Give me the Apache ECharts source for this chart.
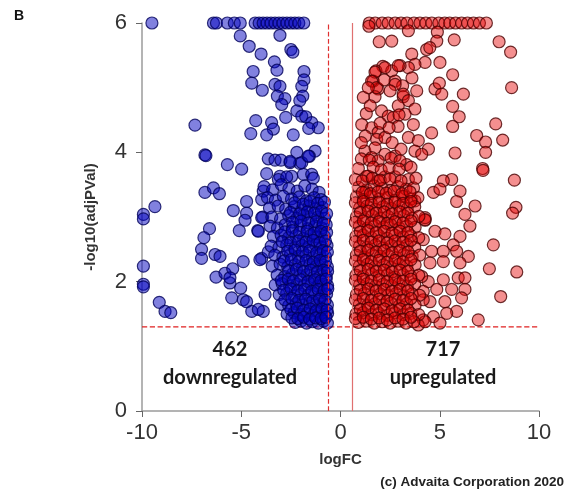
<!DOCTYPE html>
<html>
<head>
<meta charset="utf-8">
<script src="https://cdn.jsdelivr.net/npm/echarts@6/dist/echarts.min.js"></script>
<style>
  html, body { margin: 0; padding: 0; background: #fff; }
  #main { width: 567px; height: 492px; }
</style>
</head>
<body>
<div id="main"></div>
<script>
// logFC / -log10(adjPVal) pairs (capped at 6)
var downPoints = [
    [-9.5, 6], [-6.4, 6], [-6.25, 6], [-5.7, 6], [-5.35, 6], [-5.05, 6], [-4.3, 6], [-4.1, 6], [-3.9, 6],
    [-3.7, 6], [-3.5, 6], [-3.3, 6], [-3.1, 6], [-2.9, 6], [-2.7, 6], [-2.5, 6], [-2.3, 6], [-2.1, 6], [-1.85, 6],
    [-5.05, 5.8], [-3.05, 5.81], [-4.6, 5.64], [-4.0, 5.52], [-2.5, 5.59], [-2.4, 5.55], [-3.33, 5.4], [-3.2, 5.27],
    [-4.4, 5.25], [-1.84, 5.25], [-1.84, 5.12], [-4.47, 5.07], [-3.3, 5.05], [-3.05, 5.02], [-1.95, 5.02],
    [-3.94, 4.96], [-3.18, 4.87], [-2.8, 4.83], [-1.9, 4.87], [-2.05, 4.8], [-2.96, 4.74], [-2.2, 4.64],
    [-1.95, 4.56], [-1.75, 4.55], [-2.76, 4.54], [-4.27, 4.49], [-3.47, 4.46], [-7.33, 4.42], [-1.45, 4.46],
    [-1.12, 4.38], [-1.6, 4.37], [-3.38, 4.36], [-4.52, 4.29], [-3.72, 4.27], [-2.38, 4.27], [-1.28, 4.02],
    [-1.57, 3.94], [-2.2, 4.0], [-6.83, 3.96], [-6.78, 3.95], [-5.7, 3.81], [-4.98, 3.74], [-2.54, 3.84], [-2.05, 3.83],
    [-6.83, 3.38], [-6.4, 3.45], [-6.1, 3.36], [-9.35, 3.16], [-9.93, 3.04], [-9.93, 2.97], [-5.4, 3.1],
    [-4.73, 3.24], [-4.73, 3.06], [-4.81, 2.95], [-3.92, 3.0], [-6.6, 2.82], [-6.88, 2.68], [-5.1, 2.79],
    [-4.17, 2.79], [-9.93, 2.24], [-9.93, 1.96], [-9.93, 1.92], [-7.0, 2.5], [-7.0, 2.36], [-6.32, 2.42],
    [-6.07, 2.39], [-4.9, 2.31], [-3.97, 2.36], [-3.64, 2.46], [-6.27, 2.07], [-5.82, 2.13], [-5.57, 1.98],
    [-5.43, 2.2], [-5.57, 2.06], [-5.03, 1.9], [-5.48, 1.75], [-4.9, 1.72], [-4.73, 1.69], [-4.47, 1.54],
    [-3.89, 1.54], [-3.8, 1.8], [-9.13, 1.68], [-8.84, 1.54], [-8.55, 1.52], [-3.97, 2.99], [-4.14, 2.78],
    [-4.06, 2.34], [-3.89, 3.4], [-3.97, 3.27], [-4.14, 1.57],
    [-3.64, 3.9], [-3.3, 3.88], [-3.0, 3.88], [-2.54, 3.86], [-1.95, 3.84], [-1.62, 3.94], [-3.72, 3.67],
    [-3.05, 3.63], [-2.46, 3.63], [-1.87, 3.66], [-1.45, 3.66], [-3.13, 3.58], [-2.71, 3.62], [-1.37, 3.6],
    [-3.85, 3.47], [-3.42, 3.42], [-2.98, 3.5], [-2.6, 3.44], [-2.18, 3.4], [-1.8, 3.48], [-1.43, 3.43], [-1.08, 3.38],
    [-3.68, 3.3], [-3.28, 3.26], [-2.88, 3.32], [-2.47, 3.28], [-2.08, 3.31], [-1.72, 3.25], [-1.33, 3.3], [-0.98, 3.27],
    [-3.58, 3.14], [-3.14, 3.17], [-2.76, 3.12], [-2.33, 3.16], [-1.96, 3.11], [-1.58, 3.17], [-1.24, 3.13], [-0.9, 3.15],
    [-3.46, 3.0], [-3.02, 2.97], [-2.61, 3.02], [-2.2, 2.98], [-1.84, 3.03], [-1.5, 2.97], [-1.14, 3.0], [-0.8, 2.98],
    [-3.55, 2.86], [-3.18, 2.83], [-2.79, 2.88], [-2.41, 2.84], [-2.01, 2.87], [-1.66, 2.82], [-1.29, 2.86], [-0.95, 2.83], [-0.72, 2.88],
    [-3.38, 2.7], [-2.99, 2.72], [-2.62, 2.68], [-2.24, 2.71], [-1.86, 2.67], [-1.49, 2.72], [-1.16, 2.69], [-0.81, 2.7],
    [-3.49, 2.55], [-3.1, 2.53], [-2.71, 2.57], [-2.31, 2.52], [-1.94, 2.56], [-1.59, 2.54], [-1.26, 2.57], [-0.94, 2.53], [-0.68, 2.56],
    [-3.31, 2.41], [-2.9, 2.38], [-2.52, 2.42], [-2.12, 2.39], [-1.74, 2.41], [-1.41, 2.37], [-1.05, 2.42], [-0.76, 2.39],
    [-3.44, 2.24], [-3.04, 2.27], [-2.66, 2.23], [-2.29, 2.26], [-1.91, 2.22], [-1.54, 2.27], [-1.21, 2.24], [-0.9, 2.26], [-0.66, 2.23],
    [-3.19, 2.1], [-2.81, 2.08], [-2.42, 2.12], [-2.04, 2.09], [-1.69, 2.11], [-1.34, 2.07], [-1.01, 2.11], [-0.72, 2.08],
    [-3.29, 1.95], [-2.94, 1.97], [-2.56, 1.93], [-2.19, 1.96], [-1.84, 1.94], [-1.49, 1.97], [-1.16, 1.93], [-0.86, 1.96], [-0.65, 1.94],
    [-3.09, 1.8], [-2.71, 1.82], [-2.34, 1.78], [-1.99, 1.81], [-1.64, 1.79], [-1.31, 1.82], [-0.96, 1.78], [-0.7, 1.81],
    [-2.98, 1.65], [-2.61, 1.63], [-2.24, 1.66], [-1.89, 1.64], [-1.56, 1.67], [-1.21, 1.63], [-0.89, 1.66], [-0.66, 1.64],
    [-2.69, 1.5], [-2.34, 1.52], [-2.01, 1.49], [-1.69, 1.51], [-1.39, 1.48], [-1.09, 1.52], [-0.81, 1.49], [-0.65, 1.51],
    [-2.28, 1.37], [-1.99, 1.39], [-1.71, 1.36], [-1.42, 1.38], [-1.12, 1.36], [-0.86, 1.39], [-0.66, 1.36],
    // core of the blue cloud, where the markers pile up
    [-2.31, 3.22], [-1.88, 3.2], [-1.52, 3.24], [-1.15, 3.21], [-0.81, 3.23],
    [-2.52, 3.07], [-2.06, 3.05], [-1.67, 3.08], [-1.31, 3.06], [-0.96, 3.09], [-0.7, 3.05],
    [-2.41, 2.92], [-1.99, 2.94], [-1.61, 2.91], [-1.22, 2.93], [-0.87, 2.9],
    [-2.81, 2.77], [-2.43, 2.79], [-2.06, 2.76], [-1.68, 2.78], [-1.33, 2.75], [-0.99, 2.78], [-0.7, 2.76],
    [-2.94, 2.62], [-2.51, 2.6], [-2.11, 2.63], [-1.74, 2.61], [-1.38, 2.64], [-1.04, 2.6], [-0.76, 2.63],
    [-2.66, 2.47], [-2.29, 2.49], [-1.91, 2.46], [-1.55, 2.48], [-1.2, 2.45], [-0.88, 2.48], [-0.66, 2.46],
    [-2.84, 2.32], [-2.48, 2.34], [-2.1, 2.31], [-1.73, 2.33], [-1.37, 2.3], [-1.03, 2.33], [-0.75, 2.31],
    [-2.61, 2.17], [-2.22, 2.19], [-1.86, 2.16], [-1.5, 2.18], [-1.17, 2.15], [-0.85, 2.18], [-0.65, 2.16],
    [-2.98, 2.02], [-2.63, 2.04], [-2.37, 2.01], [-2.0, 2.03], [-1.64, 2.0], [-1.3, 2.03], [-0.99, 2.01], [-0.72, 2.04],
    [-2.86, 1.87], [-2.5, 1.89], [-2.15, 1.86], [-1.8, 1.88], [-1.45, 1.85], [-1.12, 1.88], [-0.82, 1.86], [-0.64, 1.89],
    [-2.8, 1.72], [-2.45, 1.74], [-2.1, 1.71], [-1.75, 1.73], [-1.4, 1.7], [-1.05, 1.73], [-0.78, 1.71],
    [-2.5, 1.57], [-2.18, 1.59], [-1.85, 1.56], [-1.53, 1.58], [-1.22, 1.55], [-0.93, 1.58], [-0.68, 1.56],
    [-2.45, 1.44], [-2.15, 1.43], [-1.85, 1.45], [-1.55, 1.42], [-1.25, 1.44], [-0.98, 1.43], [-0.74, 1.45]
];

var upPoints = [
    [1.45, 6], [1.75, 6], [2.1, 6], [2.4, 6], [2.75, 6], [3.05, 6], [3.35, 6], [3.7, 6], [4.0, 6], [4.3, 6],
    [4.6, 6], [4.95, 6], [5.25, 6], [5.5, 6], [5.8, 6], [6.1, 6], [6.4, 6], [6.7, 6], [7.0, 6], [7.35, 6], [1.43, 5.95],
    [3.42, 5.88], [4.88, 5.86], [4.85, 5.72], [1.95, 5.71], [2.58, 5.72], [5.73, 5.74], [7.99, 5.71], [8.57, 5.55],
    [4.34, 5.59], [4.5, 5.62], [3.59, 5.52], [4.26, 5.39], [3.75, 5.36], [5.01, 5.39], [5.65, 5.2], [3.42, 5.31],
    [3.0, 5.34], [2.13, 5.33], [1.79, 5.26], [2.58, 5.26], [2.75, 5.1], [1.65, 5.1], [1.9, 4.98], [1.15, 4.85],
    [1.74, 4.86], [3.13, 5.03], [3.16, 4.86], [3.84, 4.95], [4.76, 4.98], [4.98, 5.07], [5.1, 4.9], [6.19, 4.9],
    [8.62, 5.0], [5.65, 4.71], [5.98, 4.55], [5.65, 4.4], [6.86, 4.26], [7.31, 4.16], [7.31, 4.0], [7.82, 4.44],
    [8.17, 4.19], [5.77, 3.99], [7.16, 3.75], [7.18, 3.72], [4.59, 4.3], [4.43, 4.05], [8.76, 3.57], [8.84, 3.15],
    [8.67, 3.06], [5.6, 3.58], [5.18, 3.56], [4.68, 3.38], [5.01, 3.43], [6.02, 3.4], [5.85, 3.24], [6.78, 3.17],
    [6.27, 3.04], [6.52, 2.86], [4.26, 2.95], [4.76, 2.78], [5.26, 2.74], [6.02, 2.7], [5.68, 2.57], [6.44, 2.39],
    [7.7, 2.57], [7.5, 2.2], [8.88, 2.15], [8.07, 1.77], [6.94, 1.41], [4.59, 2.47], [5.18, 2.47], [5.85, 2.47],
    [5.18, 2.31], [6.02, 2.29], [4.51, 2.29], [5.93, 2.06], [6.27, 2.06], [5.18, 2.03], [4.42, 2.0], [5.6, 1.88],
    [6.27, 1.88], [4.85, 1.88], [4.17, 1.85], [4.51, 1.69], [5.26, 1.69], [6.1, 1.75], [5.85, 1.54], [5.35, 1.51],
    [4.68, 1.46], [4.17, 1.41], [5.01, 1.36], [3.92, 1.33], [4.26, 2.99],
    [1.74, 5.24], [2.24, 5.31], [2.91, 5.34], [2.75, 5.05], [1.57, 5.1], [1.82, 5.0], [3.16, 4.9], [2.91, 4.72],
    [3.42, 4.8], [3.75, 4.67], [2.07, 4.64], [2.41, 4.56], [2.66, 4.54], [3.25, 4.59], [3.67, 4.43], [1.07, 4.43],
    [1.57, 4.38], [1.9, 4.31], [1.82, 4.2], [2.24, 4.23], [3.42, 4.23], [3.92, 4.18], [1.23, 4.02], [1.74, 4.07],
    [2.24, 3.97], [2.75, 3.94], [3.75, 4.02], [4.09, 3.97], [1.57, 3.92], [1.9, 3.87], [3.33, 3.81], [1.4, 3.63],
    [2.24, 3.62], [2.75, 3.62], [1.32, 3.63], [1.9, 3.56], [3.42, 3.58], [1.23, 3.38], [3.16, 3.32], [3.75, 3.25],
    [4.26, 2.96], [4.17, 2.65], [4.09, 2.08], [4.17, 1.72], [4.26, 1.38],
    [1.3, 4.6], [2.5, 4.95], [2.2, 5.12], [1.4, 5.0], [2.9, 4.4], [2.6, 4.15], [3.05, 4.05], [1.5, 4.72],
    [2.0, 4.45], [3.6, 5.15], [1.25, 4.25], [2.95, 4.58], [1.05, 4.15], [2.45, 4.38],
    [0.9, 3.46], [1.31, 3.42], [1.69, 3.48], [2.1, 3.44], [2.52, 3.41], [2.88, 3.47], [3.3, 3.43], [3.68, 3.45],
    [0.8, 3.31], [1.16, 3.27], [1.56, 3.32], [1.94, 3.28], [2.36, 3.3], [2.74, 3.26], [3.14, 3.32], [3.56, 3.28], [3.9, 3.3],
    [0.96, 3.14], [1.34, 3.17], [1.76, 3.12], [2.14, 3.16], [2.56, 3.13], [2.94, 3.17], [3.36, 3.13], [3.74, 3.16],
    [0.8, 3.0], [1.21, 2.97], [1.59, 3.02], [2.01, 2.98], [2.39, 3.01], [2.81, 2.97], [3.19, 3.02], [3.61, 2.98], [3.95, 3.01],
    [0.95, 2.86], [1.36, 2.83], [1.74, 2.87], [2.16, 2.84], [2.54, 2.88], [2.96, 2.83], [3.34, 2.86], [3.76, 2.84],
    [0.78, 2.7], [1.14, 2.72], [1.56, 2.68], [1.94, 2.71], [2.36, 2.67], [2.74, 2.72], [3.16, 2.69], [3.54, 2.71], [3.94, 2.68],
    [0.96, 2.55], [1.34, 2.53], [1.76, 2.57], [2.14, 2.52], [2.56, 2.56], [2.94, 2.54], [3.36, 2.57], [3.74, 2.53],
    [0.8, 2.41], [1.21, 2.38], [1.59, 2.42], [2.01, 2.39], [2.39, 2.41], [2.81, 2.37], [3.19, 2.42], [3.61, 2.39], [3.99, 2.41],
    [0.95, 2.24], [1.36, 2.27], [1.74, 2.23], [2.16, 2.26], [2.54, 2.22], [2.96, 2.27], [3.34, 2.24], [3.76, 2.26],
    [0.78, 2.1], [1.14, 2.08], [1.56, 2.12], [1.94, 2.09], [2.36, 2.11], [2.74, 2.07], [3.16, 2.11], [3.54, 2.08], [3.94, 2.1],
    [0.96, 1.95], [1.34, 1.97], [1.76, 1.93], [2.14, 1.96], [2.56, 1.94], [2.94, 1.97], [3.36, 1.93], [3.74, 1.96],
    [0.8, 1.8], [1.21, 1.82], [1.59, 1.78], [2.01, 1.81], [2.39, 1.79], [2.81, 1.82], [3.19, 1.78], [3.61, 1.81], [3.98, 1.79],
    [0.95, 1.65], [1.36, 1.63], [1.74, 1.66], [2.16, 1.64], [2.54, 1.67], [2.96, 1.63], [3.34, 1.66], [3.76, 1.64],
    [0.78, 1.5], [1.14, 1.52], [1.56, 1.49], [1.94, 1.51], [2.36, 1.48], [2.74, 1.52], [3.16, 1.49], [3.54, 1.51], [3.94, 1.49],
    [0.9, 1.37], [1.3, 1.39], [1.7, 1.36], [2.1, 1.38], [2.5, 1.36], [2.9, 1.39], [3.3, 1.36], [3.7, 1.38],
    // core of the red cloud
    [1.05, 3.9], [1.45, 3.88], [2.55, 3.91], [3.0, 3.87],
    [0.9, 3.75], [1.65, 3.77], [2.05, 3.73], [2.45, 3.76], [2.95, 3.74], [3.55, 3.77],
    [0.75, 3.58], [1.1, 3.56], [1.6, 3.6], [2.0, 3.57], [2.5, 3.59], [3.05, 3.56], [3.8, 3.6],
    [1.1, 3.38], [1.5, 3.36], [1.9, 3.39], [2.3, 3.37], [2.7, 3.4], [3.1, 3.36], [3.5, 3.39],
    [0.75, 3.22], [1.15, 3.24], [1.55, 3.21], [1.95, 3.23], [2.35, 3.2], [2.75, 3.23], [3.15, 3.21], [3.55, 3.24],
    [1.0, 3.07], [1.4, 3.09], [1.8, 3.06], [2.2, 3.08], [2.6, 3.05], [3.0, 3.08], [3.4, 3.06],
    [0.75, 2.92], [1.15, 2.94], [1.55, 2.91], [1.95, 2.93], [2.35, 2.9], [2.75, 2.93], [3.15, 2.91], [3.55, 2.94],
    [1.0, 2.77], [1.4, 2.79], [1.8, 2.76], [2.2, 2.78], [2.6, 2.75], [3.0, 2.78], [3.4, 2.76],
    [0.75, 2.62], [1.15, 2.64], [1.55, 2.61], [1.95, 2.63], [2.35, 2.6], [2.75, 2.63], [3.15, 2.61], [3.55, 2.64],
    [1.0, 2.47], [1.4, 2.49], [1.8, 2.46], [2.2, 2.48], [2.6, 2.45], [3.0, 2.48], [3.4, 2.46],
    [0.75, 2.32], [1.15, 2.34], [1.55, 2.31], [1.95, 2.33], [2.35, 2.3], [2.75, 2.33], [3.15, 2.31], [3.55, 2.34],
    [1.0, 2.17], [1.4, 2.19], [1.8, 2.16], [2.2, 2.18], [2.6, 2.15], [3.0, 2.18], [3.4, 2.16],
    [0.75, 2.02], [1.15, 2.04], [1.55, 2.01], [1.95, 2.03], [2.35, 2.0], [2.75, 2.03], [3.15, 2.01], [3.55, 2.04],
    [1.0, 1.87], [1.4, 1.89], [1.8, 1.86], [2.2, 1.88], [2.6, 1.85], [3.0, 1.88], [3.4, 1.86],
    [0.75, 1.72], [1.15, 1.74], [1.55, 1.71], [1.95, 1.73], [2.35, 1.7], [2.75, 1.73], [3.15, 1.71], [3.55, 1.74],
    [1.0, 1.57], [1.4, 1.59], [1.8, 1.56], [2.2, 1.58], [2.6, 1.55], [3.0, 1.58], [3.4, 1.56],
    [0.75, 1.43], [1.15, 1.45], [1.55, 1.42], [1.95, 1.44], [2.35, 1.41], [2.75, 1.44], [3.15, 1.42], [3.55, 1.45]
];

var xTicks = [-10, 10, 5];     // min, max, step
var yTicks = [0, 6, 2];
var pCut = 1.3;                // -log10(0.05)
var fcCut = [-0.6, 0.6];
var counts = { down: '462', up: '717' };

var chart = echarts.init(document.getElementById('main'));

var axisCommon = {
    type: 'value',
    splitLine: { show: false },
    axisLine: { show: true, onZero: false, lineStyle: { color: '#9b9b9b', width: 1.5 } },
    axisTick: { show: true, length: 6, lineStyle: { color: '#666', width: 1 } },
    axisLabel: { fontSize: 22, color: '#333', fontFamily: 'Liberation Sans, Arial' },
    nameLocation: 'middle',
    nameTextStyle: { fontSize: 15, fontWeight: 'bold', color: '#333', fontFamily: 'Liberation Sans, Arial' }
};

var option = {
    animation: false,
    grid: { left: 142, right: 28, top: 23, bottom: 81 },
    xAxis: echarts.util.merge({
        min: xTicks[0], max: xTicks[1], interval: xTicks[2],
        name: 'logFC', nameGap: 41,
        axisLabel: { margin: 11 }
    }, axisCommon),
    yAxis: echarts.util.merge({
        min: yTicks[0], max: yTicks[1], interval: yTicks[2],
        name: '-log10(adjPVal)', nameGap: 44,
        axisLabel: { margin: 15 }
    }, axisCommon),
    graphic: [
        { type: 'text', left: 14, top: 9, style: { text: 'B', font: 'bold 14px Liberation Sans', fill: '#111' } },
        { type: 'text', x: 230, y: 350, style: { text: counts.down, font: 'bold 20px Lato', fill: '#1a1a1a', textAlign: 'center', textVerticalAlign: 'middle' } },
        { type: 'text', x: 230, y: 378, style: { text: 'downregulated', font: 'bold 20px Lato', fill: '#1a1a1a', textAlign: 'center', textVerticalAlign: 'middle' } },
        { type: 'text', x: 443, y: 350, style: { text: counts.up, font: 'bold 20px Lato', fill: '#1a1a1a', textAlign: 'center', textVerticalAlign: 'middle' } },
        { type: 'text', x: 443, y: 378, style: { text: 'upregulated', font: 'bold 20px Lato', fill: '#1a1a1a', textAlign: 'center', textVerticalAlign: 'middle' } },
        { type: 'text', x: 564, y: 482, style: { text: '(c) Advaita Corporation 2020', font: 'bold 13.5px Liberation Sans', fill: '#222', textAlign: 'right', textVerticalAlign: 'middle' } }
    ],
    series: [
        // adjusted p-value cut-off, drawn as a plain line across the x range
        {
            type: 'line',
            data: [[xTicks[0], pCut], [xTicks[1], pCut]],
            symbol: 'none',
            silent: true,
            z: 1,
            lineStyle: { color: '#e02020', type: 'dashed', width: 1.3 }
        },
        {
            type: 'scatter',
            data: downPoints,
            symbolSize: 12,
            clip: false,
            z: 2,
            itemStyle: { color: 'rgba(0,0,190,0.62)', borderColor: '#00005a', borderWidth: 1.2 },
            markLine: {
                silent: true,
                symbol: 'none',
                label: { show: false },
                lineStyle: { color: '#e03030', type: 'dashed', width: 1.2 },
                data: [{ xAxis: fcCut[0] }]
            }
        },
        {
            type: 'scatter',
            data: upPoints,
            symbolSize: 12,
            clip: false,
            z: 2,
            itemStyle: { color: 'rgba(230,0,0,0.55)', borderColor: '#4a0000', borderWidth: 1.2 },
            markLine: {
                silent: true,
                symbol: 'none',
                label: { show: false },
                lineStyle: { color: '#e07070', type: 'solid', width: 1.2 },
                data: [{ xAxis: fcCut[1] }]
            }
        }
    ]
};

chart.setOption(option);
</script>
</body>
</html>
